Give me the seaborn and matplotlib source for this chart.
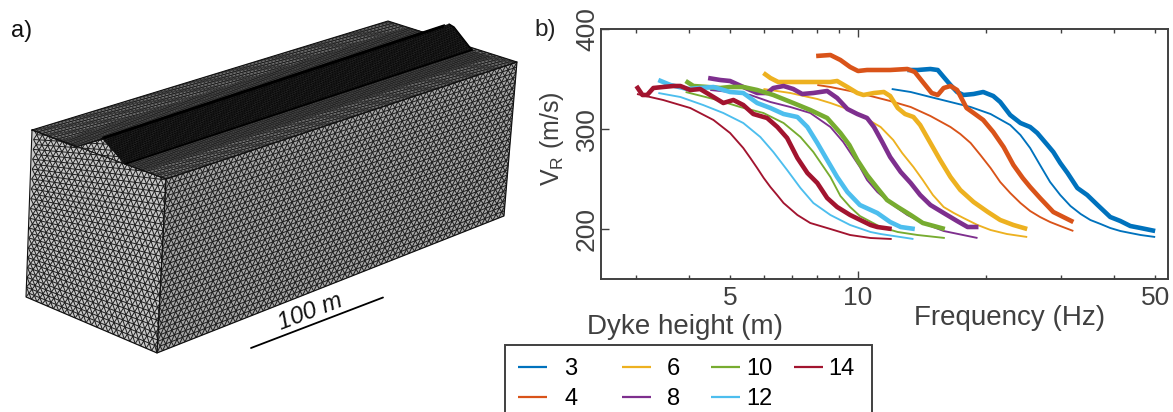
import numpy as np
import matplotlib
matplotlib.use("Agg")
import matplotlib.pyplot as plt
from matplotlib.collections import LineCollection
from matplotlib.patches import Polygon
from matplotlib.offsetbox import DrawingArea
from matplotlib.ticker import NullFormatter
import seaborn as sns

sns.set_theme(style="white")
plt.rcParams["font.family"] = ["Liberation Sans", "DejaVu Sans"]
plt.rcParams["mathtext.fontset"] = "custom"
plt.rcParams["mathtext.rm"] = "Liberation Sans"

heights = ["3", "4", "6", "8", "10", "12", "14"]
colors = ["#0072BD", "#D95319", "#EDB120", "#7E2F8E", "#77AC30", "#4DBEEE", "#A2142F"]

# Thin curves
f3_thin = [12.0, 13.3, 14.8, 16.5, 18.4, 20.5, 22.8, 24.1, 25.4, 26.8, 28.3, 29.9, 31.6, 33.4, 35.2, 37.2, 39.2, 41.4, 43.7, 46.2, 50.0]
v3_thin = [340, 337, 332, 327, 322, 315, 304, 294, 281, 264, 247, 234, 223, 215, 209, 205, 201, 198, 196, 194, 192]
f4_thin = [8.02, 8.61, 9.58, 10.7, 11.9, 13.3, 14.8, 16.5, 17.4, 18.4, 19.4, 20.5, 21.6, 22.8, 24.1, 25.4, 26.8, 28.3, 29.9, 32.1]
v4_thin = [344, 342, 338, 333, 328, 322, 313, 302, 295, 286, 274, 261, 247, 236, 226, 218, 212, 207, 203, 198]
f6_thin = [5.99, 6.93, 8.02, 8.61, 9.44, 10.3, 11.3, 12.1, 12.7, 13.5, 14.2, 15.0, 15.9, 16.8, 17.7, 19.1, 20.5, 22.4, 25.0]
v6_thin = [340, 336, 330, 326, 320, 312, 302, 289, 276, 262, 249, 234, 222, 216, 211, 204, 199, 195, 192]
f8_thin = [4.49, 5.0, 5.58, 6.22, 6.93, 7.72, 8.61, 9.23, 10.1, 10.5, 11.1, 11.9, 13.06, 14.2, 15.9, 19.1]
v8_thin = [339, 337, 334, 327, 322, 316, 302, 287, 262, 249, 237, 226, 214, 206, 198, 191]
f10_thin = [3.93, 4.67, 5.28, 5.99, 6.68, 7.32, 7.85, 8.61, 9.09, 9.58, 10.1, 11.3, 12.4, 13.8, 16.0]
v10_thin = [337, 329, 322, 316, 306, 292, 277, 252, 233, 222, 213, 202, 197, 194, 191]
f12_thin = [3.39, 3.82, 4.32, 4.82, 5.37, 5.89, 6.32, 6.81, 7.32, 7.85, 8.61, 9.58, 10.7, 11.3, 13.5]
v12_thin = [336, 332, 324, 316, 306, 292, 277, 259, 241, 226, 214, 204, 197, 195, 190]
f14_thin = [3.02, 3.48, 4.03, 4.57, 5.0, 5.37, 5.58, 5.79, 6.0, 6.22, 6.45, 6.68, 7.2, 7.72, 8.61, 9.58, 10.7, 12.0]
v14_thin = [335, 329, 321, 309, 296, 281, 271, 261, 251, 242, 234, 226, 214, 206, 200, 194, 191, 190]

# Thick curves
f3_thick = [13.06, 13.8, 14.8, 15.4, 15.9, 16.5, 17.1, 17.7, 18.7, 19.7, 20.8, 21.6, 22.8, 24.1, 25.4, 26.4, 27.9, 28.8, 29.9, 31.1, 32.8, 34.6, 36.6, 39.2, 41.4, 43.7, 46.2, 50.0]
v3_thick = [359, 359, 360, 359, 352, 344, 337, 334, 335, 337, 333, 327, 314, 306, 302, 296, 284, 277, 266, 256, 241, 234, 224, 212, 208, 203, 201, 198]
f4_thick = [7.97, 8.61, 9.09, 9.58, 10.0, 10.5, 11.9, 13.06, 13.6, 14.2, 14.9, 15.4, 15.9, 16.5, 17.1, 17.6, 18.0, 18.7, 19.7, 20.8, 22.0, 23.2, 24.4, 25.4, 26.8, 28.8, 30.4, 32.1]
v4_thick = [373, 374, 369, 362, 358, 359, 359, 360, 357, 347, 336, 334, 341, 343, 339, 329, 321, 316, 309, 297, 282, 264, 251, 242, 231, 217, 212, 207]
f6_thick = [5.99, 6.22, 6.49, 7.2, 8.61, 8.93, 9.44, 9.96, 10.3, 10.9, 11.5, 11.9, 12.4, 12.9, 13.5, 14.0, 14.8, 15.6, 16.5, 17.4, 18.7, 20.2, 21.6, 23.2, 25.0]
v6_thick = [356, 351, 347, 347, 347, 348, 342, 336, 334, 336, 337, 333, 321, 315, 312, 304, 286, 269, 252, 239, 227, 217, 209, 204, 200]
f8_thick = [4.44, 4.74, 5.0, 5.37, 5.79, 6.11, 6.32, 6.68, 7.04, 7.39, 7.85, 8.46, 8.93, 9.44, 9.96, 10.5, 10.9, 11.4, 11.9, 12.6, 13.3, 14.0, 14.8, 15.9, 17.1, 18.1, 19.2]
v8_thick = [351, 349, 348, 342, 336, 336, 341, 343, 340, 335, 336, 338, 331, 320, 315, 311, 302, 287, 272, 257, 246, 234, 224, 216, 208, 202, 202]
f10_thick = [3.93, 4.1, 4.42, 4.74, 5.0, 5.37, 5.79, 6.32, 7.04, 7.72, 8.46, 9.09, 9.54, 9.96, 10.5, 11.1, 11.7, 12.4, 13.3, 14.2, 16.0]
v10_thick = [348, 343, 342, 341, 342, 342, 339, 334, 326, 319, 311, 296, 284, 269, 254, 241, 229, 222, 214, 206, 200]
f12_thick = [3.39, 3.62, 3.97, 4.25, 4.57, 5.0, 5.37, 5.79, 6.22, 6.68, 7.2, 7.6, 8.02, 8.46, 8.93, 9.44, 10.1, 11.1, 11.9, 12.6, 13.6]
v12_thick = [349, 344, 340, 341, 342, 337, 336, 326, 321, 315, 312, 302, 286, 269, 252, 237, 224, 216, 207, 202, 200]
f14_thick = [3.01, 3.11, 3.19, 3.3, 3.48, 3.68, 3.82, 4.03, 4.25, 4.57, 4.82, 5.09, 5.37, 5.67, 6.11, 6.46, 6.81, 7.2, 7.6, 8.02, 8.46, 8.93, 9.58, 10.7, 11.1, 12.0]
v14_thick = [343, 334, 334, 341, 342, 343, 343, 339, 340, 332, 326, 329, 324, 315, 311, 302, 291, 271, 256, 246, 231, 222, 214, 204, 202, 200]

thin_curves = [(f3_thin, v3_thin), (f4_thin, v4_thin), (f6_thin, v6_thin), (f8_thin, v8_thin),
               (f10_thin, v10_thin), (f12_thin, v12_thin), (f14_thin, v14_thin)]
thick_curves = [(f3_thick, v3_thick), (f4_thick, v4_thick), (f6_thick, v6_thick), (f8_thick, v8_thick),
                (f10_thick, v10_thick), (f12_thick, v12_thick), (f14_thick, v14_thick)]

W, H = 1173, 412
INK = "#404040"
fig = plt.figure(figsize=(W / 100, H / 100), dpi=100)

# ---------- panel a: meshed block, drawn in picture coordinates ----------
bg = fig.add_axes([0, 0, 1, 1], zorder=0)
bg.set_xlim(0, W)
bg.set_ylim(H, 0)
bg.axis("off")

front_outline = [(32, 130), (76, 147), (103, 139), (125, 164), (166, 179), (157, 353), (26, 297)]
front_quad = [(35, 110), (175, 110), (157, 353), (26, 297)]
side_quad = [(166, 179), (517, 62), (504, 216), (157, 353)]
top_quad = [(32, 130), (388, 21), (517, 62), (166, 179)]
apron_left = [(58, 141), (406, 27), (424, 32), (76, 147)]
apron_right = [(125, 164), (472, 51), (492, 57), (145, 171)]
ridge_left = [(76, 147), (424, 32), (450, 24), (103, 139)]
ridge_right = [(103, 139), (450, 24), (472, 51), (125, 164)]
ridge_right_outline = [(103, 139), (441, 26), (449, 24), (454, 27), (472, 50), (125, 164)]
ridge_crest = [(99, 141), (103, 136.5), (445, 24), (444, 27.5)]


def mesh(quad, nu, nv, face, lw, outline=None, color="#1a1a1a", z=1):
    q = np.array(quad, float)
    poly = Polygon(outline if outline else quad, closed=True, fc=face, ec="none", zorder=z)
    bg.add_patch(poly)

    def pt(i, j):
        u = np.clip((j + 0.5 * (i % 2)) / nu, 0, 1)
        v = i / nv
        return (1 - v) * ((1 - u) * q[0] + u * q[1]) + v * ((1 - u) * q[3] + u * q[2])

    segs = []
    for i in range(nv + 1):
        for j in range(nu + 1):
            a = pt(i, j)
            if j < nu:
                segs.append([a, pt(i, j + 1)])
            if i < nv:
                segs.append([a, pt(i + 1, j)])
                k = j - 1 if i % 2 == 0 else j + 1
                if 0 <= k <= nu:
                    segs.append([a, pt(i + 1, k)])
    lc = LineCollection(segs, colors=color, linewidths=lw, zorder=z + 0.1)
    bg.add_collection(lc)
    lc.set_clip_path(poly)


def edge(path, lw=0.8, z=2.5, color="#111111"):
    pts = np.array(path, float)
    sns.lineplot(x=pts[:, 0], y=pts[:, 1], ax=bg, color=color, lw=lw, sort=False,
                 estimator=None, errorbar=None, legend=False, zorder=z)


mesh(top_quad, 100, 26, "#8c8c8c", 0.5, z=1)
mesh(side_quad, 62, 30, "#a8a8a8", 0.7, z=1.2)
mesh(front_quad, 24, 38, "#c8c8c8", 0.7, outline=front_outline, z=1.4)
mesh(apron_left, 130, 5, "#707070", 0.4, z=1.6)
mesh(apron_right, 140, 6, "#707070", 0.4, z=1.6)
edge(top_quad + top_quad[:1], z=2)
edge(side_quad + side_quad[:1], z=2)
mesh(ridge_left, 120, 8, "#505050", 0.35, z=3)
mesh(ridge_right, 140, 14, "#262626", 0.35, color="#050505", outline=ridge_right_outline, z=3.2)
bg.add_patch(Polygon(ridge_crest, closed=True, fc="black", ec="none", zorder=4))
edge([(125, 164), (472, 50)], lw=1.3, z=4, color="black")
edge([(449, 24), (454, 27), (472, 50)], lw=1.0, z=4, color="black")
edge(front_outline + front_outline[:1], z=5)
bg.set_xlim(0, W)
bg.set_ylim(H, 0)

# scale bar
edge([(251, 348), (383, 297.5)], lw=1.3, z=5, color="black")
bg.text(310, 312, "100 m", rotation=21, rotation_mode="anchor", ha="center", va="center",
        style="italic", fontsize=17.5, color="#111111")
bg.text(11, 31, "a)", ha="left", va="center", fontsize=17, color="#111111")
bg.text(534, 30, "b)", ha="left", va="center", fontsize=17.5, color="#222222")

# ---------- panel b ----------
L, R, T, B = 601, 1168, 29, 279
ax = fig.add_axes([L / W, 1 - B / H, (R - L) / W, (B - T) / H], zorder=2)
ax.patch.set_alpha(0)
ax.set_xscale("log")

for (f, v), c, h in zip(thin_curves, colors, heights):
    sns.lineplot(x=f, y=v, ax=ax, color=c, lw=1.35, label=h, sort=False, estimator=None,
                 errorbar=None, legend=False, solid_capstyle="butt", solid_joinstyle="round")
for (f, v), c in zip(thick_curves, colors):
    sns.lineplot(x=f, y=v, ax=ax, color=c, lw=3.3, sort=False, estimator=None,
                 errorbar=None, legend=False, solid_capstyle="butt", solid_joinstyle="round")

ax.set_xlim(2.485, 53.6)
ax.set_ylim(150, 400)
ax.set_xticks([5, 10, 50])
ax.set_xticklabels(["5", "10", "50"])
ax.set_xticks([3, 4, 6, 7, 8, 9, 20, 30, 40], minor=True)
ax.xaxis.set_minor_formatter(NullFormatter())
ax.set_yticks([200, 300, 400])
ax.set_yticklabels(["200", "300", "400"], rotation=90, va="center")
ax.tick_params(axis="x", which="both", direction="in", top=True, bottom=True, length=2.6, width=1,
               color=INK, labelcolor=INK, labelsize=19, pad=5)
ax.tick_params(axis="y", which="major", direction="in", left=True, right=False, length=5.5, width=1,
               color=INK, labelcolor=INK, labelsize=19, pad=1.5)
ax.xaxis.get_major_ticks()[1].tick1line.set_markersize(6)
ax.xaxis.get_major_ticks()[1].tick2line.set_markersize(6)
for s in ax.spines.values():
    s.set_color(INK)
    s.set_linewidth(1.4)
    s.set_visible(True)

ax.set_xlabel("Frequency (Hz)", fontsize=20, color=INK)
ax.xaxis.set_label_coords((1010 - L) / (R - L), -(318 - B) / (B - T))
ax.xaxis.label.set_va("center")
ax.set_ylabel(r"V$_{\mathrm{R}}$ (m/s)", fontsize=18, color=INK)
ax.yaxis.set_label_coords((552 - L) / (R - L), (B - 139) / (B - T))
ax.yaxis.label.set_va("center")
fig.text(685 / W, 1 - 327 / H, "Dyke height (m)", ha="center", va="center", fontsize=20, color=INK)

handles = ax.get_lines()[:7]
leg = ax.legend(handles, heights, ncols=4, loc="upper left",
                bbox_to_anchor=(505 / W, 1 - 345 / H), bbox_transform=fig.transFigure,
                borderaxespad=0, fontsize=17, frameon=True, fancybox=False, framealpha=1,
                edgecolor=INK, handlelength=1.23, handletextpad=0.3, columnspacing=0,
                labelspacing=0.35, borderpad=0.55, labelcolor="black")
leg.get_frame().set_linewidth(1.4)
leg.get_frame().set_facecolor("white")
for line in leg.get_lines():
    line.set_linewidth(1.6)

# the reference legend has uneven gaps: handle-to-text and column-to-column, in pixels
text_gaps_px = [17, 16, 6, 5]
column_gaps_px = [45, 31, 21, 5]
outer = leg._legend_handle_box
columns = list(outer.get_children())
for col, gap in zip(columns, text_gaps_px):
    for row in col.get_children():
        row.sep = gap * 0.72
new_children = []
for col, gap in zip(columns, column_gaps_px):
    new_children.append(col)
    spacer = DrawingArea(gap * 0.72, 1)
    spacer.set_figure(fig)
    new_children.append(spacer)
outer.get_children()[:] = new_children

fig.savefig("out.png", dpi=100)
